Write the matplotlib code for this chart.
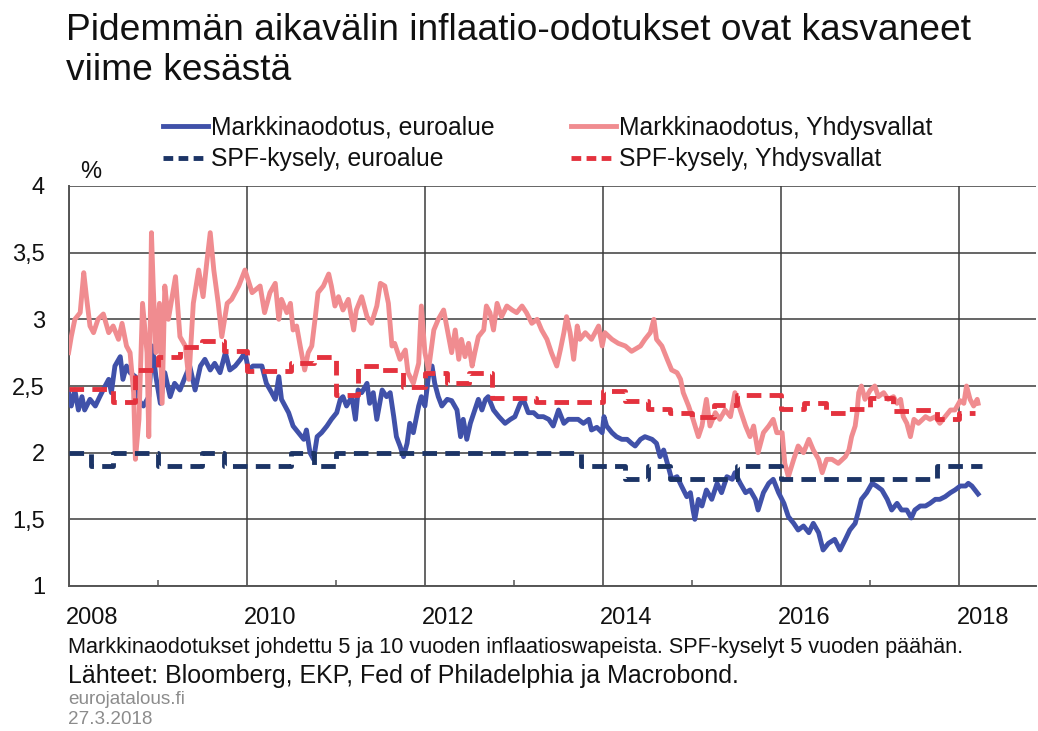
import matplotlib
matplotlib.use("Agg")
import matplotlib.pyplot as plt
import matplotlib.transforms as mtransforms
from matplotlib.lines import Line2D

# ---------------- data ----------------
eu_years = [
    2008.00, 2008.03, 2008.07, 2008.11, 2008.15, 2008.18, 2008.24, 2008.30, 2008.35, 2008.41,
    2008.45, 2008.48, 2008.52, 2008.58, 2008.61, 2008.65, 2008.69, 2008.75, 2008.78, 2008.84,
    2008.90, 2008.94, 2008.98, 2009.03, 2009.08, 2009.14, 2009.19, 2009.25, 2009.31, 2009.36,
    2009.42, 2009.48, 2009.53, 2009.59, 2009.64, 2009.70, 2009.76, 2009.81, 2009.87, 2009.93,
    2009.98, 2010.02, 2010.07, 2010.17, 2010.22, 2010.28, 2010.32, 2010.36, 2010.39, 2010.47,
    2010.52, 2010.58, 2010.64, 2010.67, 2010.71, 2010.75, 2010.79, 2010.84, 2010.90, 2010.95,
    2011.01, 2011.05, 2011.08, 2011.12, 2011.18, 2011.22, 2011.25, 2011.29, 2011.35, 2011.38,
    2011.42, 2011.46, 2011.52, 2011.57, 2011.61, 2011.65, 2011.68, 2011.72, 2011.76, 2011.80,
    2011.83, 2011.87, 2011.93, 2011.96, 2012.00, 2012.04, 2012.08, 2012.11, 2012.15, 2012.19,
    2012.25, 2012.30, 2012.36, 2012.40, 2012.43, 2012.47, 2012.51, 2012.56, 2012.60, 2012.64,
    2012.68, 2012.71, 2012.77, 2012.83, 2012.90, 2012.96, 2013.01, 2013.07, 2013.11, 2013.16,
    2013.22, 2013.27, 2013.33, 2013.39, 2013.44, 2013.50, 2013.56, 2013.61, 2013.67, 2013.72,
    2013.78, 2013.84, 2013.87, 2013.93, 2013.99, 2014.01, 2014.04, 2014.10, 2014.15, 2014.21,
    2014.27, 2014.32, 2014.36, 2014.42, 2014.47, 2014.55, 2014.60, 2014.64, 2014.68, 2014.73,
    2014.77, 2014.83, 2014.88, 2014.94, 2014.98, 2015.01, 2015.03, 2015.07, 2015.11, 2015.16,
    2015.22, 2015.28, 2015.33, 2015.39, 2015.45, 2015.48, 2015.54, 2015.60, 2015.65, 2015.71,
    2015.74, 2015.80, 2015.86, 2015.91, 2015.97, 2016.03, 2016.08, 2016.14, 2016.19, 2016.25,
    2016.31, 2016.36, 2016.42, 2016.47, 2016.53, 2016.60, 2016.66, 2016.72, 2016.77, 2016.83,
    2016.87, 2016.90, 2016.96, 2017.02, 2017.07, 2017.13, 2017.19, 2017.24, 2017.30, 2017.35,
    2017.41, 2017.46, 2017.50, 2017.56, 2017.62, 2017.67, 2017.73, 2017.78, 2017.84, 2017.90,
    2017.95, 2018.01, 2018.07, 2018.10, 2018.14, 2018.21,
]
eu_vals = [
    2.45, 2.35, 2.47, 2.32, 2.42, 2.32, 2.40, 2.35, 2.42, 2.50,
    2.55, 2.45, 2.65, 2.72, 2.55, 2.65, 2.60, 2.57, 2.40, 2.35,
    2.42, 2.80, 2.57, 2.37, 2.60, 2.42, 2.52, 2.47, 2.57, 2.65,
    2.47, 2.65, 2.70, 2.62, 2.67, 2.60, 2.75, 2.62, 2.65, 2.70,
    2.75, 2.62, 2.65, 2.65, 2.52, 2.45, 2.40, 2.57, 2.40, 2.30,
    2.20, 2.15, 2.10, 2.17, 2.00, 1.95, 2.12, 2.15, 2.20, 2.25,
    2.30, 2.40, 2.42, 2.35, 2.42, 2.25, 2.47, 2.45, 2.52, 2.37,
    2.45, 2.25, 2.47, 2.42, 2.45, 2.27, 2.12, 2.05, 1.97, 2.07,
    2.22, 2.15, 2.35, 2.42, 2.35, 2.57, 2.65, 2.52, 2.42, 2.35,
    2.40, 2.39, 2.32, 2.12, 2.25, 2.10, 2.22, 2.32, 2.40, 2.32,
    2.40, 2.42, 2.32, 2.27, 2.22, 2.25, 2.27, 2.37, 2.39, 2.30,
    2.30, 2.27, 2.27, 2.25, 2.20, 2.32, 2.22, 2.25, 2.25, 2.25,
    2.22, 2.25, 2.17, 2.19, 2.15, 2.27, 2.20, 2.15, 2.12, 2.10,
    2.10, 2.07, 2.05, 2.10, 2.12, 2.10, 2.07, 1.97, 2.02, 1.90,
    1.80, 1.82, 1.75, 1.67, 1.70, 1.57, 1.50, 1.65, 1.60, 1.72,
    1.65, 1.77, 1.70, 1.82, 1.80, 1.85, 1.77, 1.70, 1.72, 1.65,
    1.57, 1.70, 1.77, 1.80, 1.70, 1.62, 1.52, 1.47, 1.42, 1.45,
    1.40, 1.47, 1.40, 1.27, 1.32, 1.35, 1.27, 1.35, 1.42, 1.47,
    1.57, 1.65, 1.70, 1.77, 1.75, 1.72, 1.65, 1.57, 1.62, 1.57,
    1.57, 1.51, 1.57, 1.60, 1.60, 1.62, 1.65, 1.65, 1.67, 1.70,
    1.72, 1.75, 1.75, 1.77, 1.75, 1.69,
]

us_years = [
    2008.00, 2008.03, 2008.07, 2008.13, 2008.17, 2008.20, 2008.24, 2008.28, 2008.33, 2008.39,
    2008.45, 2008.50, 2008.56, 2008.60, 2008.65, 2008.69, 2008.73, 2008.75, 2008.79, 2008.83,
    2008.88, 2008.90, 2008.93, 2008.95, 2008.98, 2009.02, 2009.05, 2009.08, 2009.12, 2009.20,
    2009.25, 2009.31, 2009.35, 2009.40, 2009.46, 2009.51, 2009.55, 2009.59, 2009.63, 2009.68,
    2009.72, 2009.78, 2009.83, 2009.91, 2009.98, 2010.06, 2010.15, 2010.20, 2010.26, 2010.32,
    2010.36, 2010.39, 2010.45, 2010.49, 2010.52, 2010.56, 2010.60, 2010.65, 2010.69, 2010.73,
    2010.77, 2010.80, 2010.86, 2010.92, 2010.95, 2010.99, 2011.03, 2011.08, 2011.14, 2011.20,
    2011.23, 2011.29, 2011.35, 2011.40, 2011.46, 2011.50, 2011.55, 2011.59, 2011.63, 2011.66,
    2011.72, 2011.78, 2011.81, 2011.87, 2011.93, 2011.96, 2012.00, 2012.04, 2012.10, 2012.15,
    2012.21, 2012.30, 2012.34, 2012.38, 2012.41, 2012.45, 2012.49, 2012.53, 2012.56, 2012.60,
    2012.66, 2012.69, 2012.73, 2012.77, 2012.81, 2012.86, 2012.92, 2012.98, 2013.03, 2013.09,
    2013.14, 2013.20, 2013.26, 2013.31, 2013.37, 2013.42, 2013.48, 2013.52, 2013.56, 2013.59,
    2013.63, 2013.67, 2013.71, 2013.74, 2013.80, 2013.87, 2013.95, 2013.99, 2014.02, 2014.10,
    2014.17, 2014.25, 2014.32, 2014.42, 2014.47, 2014.53, 2014.57, 2014.60, 2014.66, 2014.72,
    2014.77, 2014.83, 2014.87, 2014.90, 2014.96, 2015.01, 2015.07, 2015.11, 2015.16, 2015.20,
    2015.26, 2015.31, 2015.37, 2015.43, 2015.48, 2015.54, 2015.60, 2015.65, 2015.69, 2015.74,
    2015.80, 2015.86, 2015.91, 2015.95, 2016.01, 2016.04, 2016.08, 2016.14, 2016.19, 2016.25,
    2016.31, 2016.36, 2016.42, 2016.46, 2016.51, 2016.57, 2016.64, 2016.72, 2016.76, 2016.79,
    2016.83, 2016.85, 2016.87, 2016.90, 2016.94, 2017.00, 2017.05, 2017.09, 2017.15, 2017.20,
    2017.26, 2017.30, 2017.34, 2017.37, 2017.41, 2017.45, 2017.49, 2017.54, 2017.62, 2017.67,
    2017.73, 2017.78, 2017.84, 2017.90, 2017.95, 2018.01, 2018.05, 2018.08, 2018.12, 2018.16,
    2018.20, 2018.21,
]
us_vals = [
    2.75, 2.87, 3.00, 3.05, 3.35, 3.17, 2.95, 2.90, 3.00, 3.04,
    2.90, 2.95, 2.85, 2.97, 2.80, 2.75, 2.45, 1.95, 2.25, 3.12,
    2.75, 2.12, 3.65, 3.25, 2.75, 3.12, 2.37, 3.25, 3.00, 3.32,
    2.87, 2.80, 2.55, 3.12, 3.37, 3.17, 3.42, 3.65, 3.37, 3.12,
    2.87, 3.12, 3.15, 3.25, 3.37, 3.20, 3.25, 3.05, 3.20, 3.27,
    3.00, 3.15, 3.05, 3.12, 2.92, 2.95, 2.80, 2.62, 2.75, 2.80,
    3.02, 3.20, 3.25, 3.34, 3.25, 3.10, 3.17, 3.07, 3.15, 2.92,
    3.07, 3.17, 3.02, 2.97, 3.10, 3.27, 3.25, 3.12, 2.80, 2.82,
    2.70, 2.77, 2.60, 2.52, 2.67, 3.10, 2.75, 2.62, 2.92, 3.00,
    3.07, 2.75, 2.92, 2.70, 2.85, 2.72, 2.82, 2.65, 2.75, 2.87,
    2.92, 3.10, 3.05, 2.92, 3.12, 3.02, 3.10, 3.07, 3.05, 3.10,
    3.05, 2.97, 3.00, 2.92, 2.85, 2.75, 2.65, 2.77, 2.90, 3.02,
    2.90, 2.70, 2.95, 2.85, 2.90, 2.85, 2.95, 2.80, 2.90, 2.85,
    2.82, 2.80, 2.76, 2.80, 2.85, 2.90, 3.00, 2.85, 2.80, 2.70,
    2.62, 2.60, 2.55, 2.45, 2.35, 2.25, 2.12, 2.20, 2.40, 2.20,
    2.30, 2.25, 2.32, 2.27, 2.45, 2.32, 2.20, 2.12, 2.20, 2.00,
    2.15, 2.20, 2.25, 2.15, 2.15, 1.92, 1.82, 1.95, 2.05, 2.00,
    2.10, 2.02, 1.95, 1.85, 1.95, 1.95, 1.92, 1.97, 2.02, 2.12,
    2.20, 2.30, 2.45, 2.50, 2.40, 2.47, 2.50, 2.42, 2.45, 2.40,
    2.42, 2.37, 2.40, 2.27, 2.22, 2.12, 2.25, 2.22, 2.27, 2.25,
    2.27, 2.22, 2.27, 2.32, 2.32, 2.39, 2.37, 2.50, 2.40, 2.35,
    2.40, 2.37,
]

spf_eu_years = [2008.0, 2008.25, 2008.5, 2009.0, 2009.5, 2009.75, 2010.5, 2010.75, 2011.0,
                2013.75, 2014.25, 2014.5, 2014.75, 2015.5, 2016.0, 2017.75, 2018.25]
spf_eu_vals = [2.0, 1.9, 2.0, 1.9, 2.0, 1.9, 2.0, 1.9, 2.0,
               1.9, 1.8, 1.9, 1.8, 1.9, 1.8, 1.9, 1.9]

spf_us_years = [2008.0, 2008.5, 2008.75, 2009.0, 2009.25, 2009.5, 2009.75, 2010.0, 2010.5,
                2010.75, 2011.0, 2011.25, 2011.5, 2011.75, 2012.0, 2012.25, 2012.5, 2012.75,
                2013.25, 2014.0, 2014.25, 2014.5, 2014.75, 2015.0, 2015.25, 2015.5, 2016.0,
                2016.25, 2016.5, 2016.75, 2017.0, 2017.25, 2017.5, 2017.75, 2018.0, 2018.17]
spf_us_vals = [2.48, 2.38, 2.62, 2.72, 2.79, 2.84, 2.76, 2.61, 2.67,
               2.72, 2.43, 2.65, 2.62, 2.49, 2.60, 2.52, 2.60, 2.41,
               2.38, 2.46, 2.39, 2.33, 2.30, 2.27, 2.36, 2.43, 2.33,
               2.37, 2.30, 2.33, 2.41, 2.31, 2.32, 2.25, 2.30, 2.30]

labels = ["Markkinaodotus, euroalue", "SPF-kysely, euroalue",
          "Markkinaodotus, Yhdysvallat", "SPF-kysely, Yhdysvallat"]
x_major = [2008, 2010, 2012, 2014, 2016, 2018]
x_minor = [2009, 2011, 2013, 2015, 2017]
y_ticks = [1, 1.5, 2, 2.5, 3, 3.5, 4]
y_ticklabels = ["1", "1,5", "2", "2,5", "3", "3,5", "4"]

title = "Pidemmän aikavälin inflaatio-odotukset ovat kasvaneet\nviime kesästä"
note1 = "Markkinaodotukset johdettu 5 ja 10 vuoden inflaatioswapeista. SPF-kyselyt 5 vuoden päähän."
note2 = "Lähteet: Bloomberg, EKP, Fed of Philadelphia ja Macrobond."
note3 = "eurojatalous.fi"
note4 = "27.3.2018"

# ---------------- styling ----------------
plt.rcParams['font.family'] = ['Liberation Sans', 'DejaVu Sans']
C_EU = '#4051A9'
C_US = '#F08C90'
C_SPF_EU = '#1C3466'
C_SPF_US = '#E4323E'
GRID = '#3C3C3C'

W, H = 1038, 731
fig = plt.figure(figsize=(W / 100, H / 100), dpi=100)
ax = fig.add_axes([68.6 / W, 1 - 586 / H, (1036 - 68.6) / W, 400 / H])

lw = 3.5
ax.plot(eu_years, eu_vals, color=C_EU, lw=lw, zorder=3, solid_joinstyle='round')
ax.plot(us_years, us_vals, color=C_US, lw=lw, zorder=4, solid_joinstyle='round')
ax.plot(spf_eu_years, spf_eu_vals, color=C_SPF_EU, lw=lw, ls=(0, (3.0, 1.7)),
        drawstyle='steps-post', zorder=5)
ax.plot(spf_us_years, spf_us_vals, color=C_SPF_US, lw=lw, ls=(0, (3.0, 1.7)),
        drawstyle='steps-post', zorder=6)

ax.set_xlim(2008.0, 2018.86)
ax.set_ylim(1, 4)
ax.set_yticks(y_ticks)
ax.set_yticklabels(y_ticklabels)
ax.set_xticks(x_major)
ax.set_xticklabels([str(v) for v in x_major])
ax.set_xticks(x_minor, minor=True)

ax.grid(axis='y', color=GRID, lw=1.1, zorder=1)
ax.grid(axis='x', which='major', color=GRID, lw=1.1, zorder=1)
ax.set_axisbelow(True)
for s in ['top', 'right']:
    ax.spines[s].set_visible(False)
for s in ['left', 'bottom']:
    ax.spines[s].set_color('#555555')
    ax.spines[s].set_linewidth(1.4)

ax.tick_params(axis='y', length=0, pad=17, labelsize=17, labelcolor='#111111')
ax.tick_params(axis='x', which='major', length=0, pad=15, labelsize=17, labelcolor='#111111')
ax.tick_params(axis='x', which='minor', direction='in', length=4, width=1.1, color='#555555')

off = mtransforms.ScaledTranslation(-3 / 100, 0, fig.dpi_scale_trans)
for lbl in ax.get_xticklabels():
    lbl.set_horizontalalignment('left')
    lbl.set_transform(lbl.get_transform() + off)

# "%" unit
fig.text(80 / W, 1 - 172 / H, "%", fontsize=17, va='center', ha='left', color='#111111')

# title
fig.text(66 / W, 1 - 13 / H, title, fontsize=26.7, va='top', ha='left',
         linespacing=1.17, color='#111111')

# legends
handles = [
    Line2D([], [], color=C_EU, lw=lw),
    Line2D([], [], color=C_SPF_EU, lw=lw, ls=(0, (2.0, 1.1))),
    Line2D([], [], color=C_US, lw=lw),
    Line2D([], [], color=C_SPF_US, lw=lw, ls=(0, (2.0, 1.1))),
]
leg_kw = dict(loc='upper left', frameon=False, fontsize=17.8, handlelength=1.8,
              handletextpad=0.15, labelspacing=0.3, borderpad=0, borderaxespad=0)
leg1 = fig.legend(handles[:2], labels[:2], bbox_to_anchor=(163 / W, 1 - 116 / H), **leg_kw)
leg2 = fig.legend(handles[2:], labels[2:], bbox_to_anchor=(571 / W, 1 - 116 / H), **leg_kw)
for leg in (leg1, leg2):
    for t in leg.get_texts():
        t.set_color('#111111')

# footnotes
fig.text(68 / W, 1 - 648 / H, note1, fontsize=15.6, va='center', ha='left', color='#111111')
fig.text(68 / W, 1 - 676 / H, note2, fontsize=18.0, va='center', ha='left', color='#111111')
fig.text(68 / W, 1 - 700 / H, note3, fontsize=13.6, va='center', ha='left', color='#8C8C8C')
fig.text(68 / W, 1 - 720 / H, note4, fontsize=13.6, va='center', ha='left', color='#8C8C8C')

fig.savefig("out.png", dpi=100, facecolor='white')
